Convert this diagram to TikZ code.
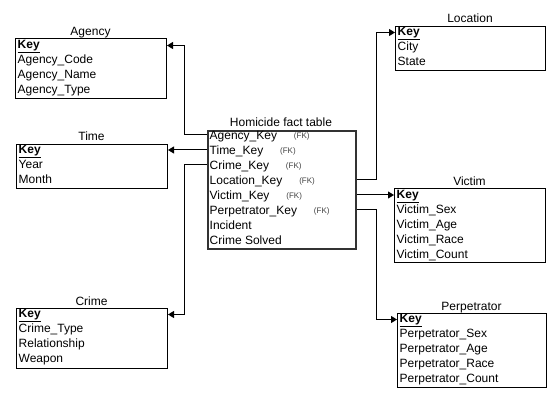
\documentclass[tikz,border=0pt]{standalone}
\usepackage{fontspec}
\setmainfont{Liberation Sans}
\usepackage{tikz}
\usetikzlibrary{calc}
\usetikzlibrary{positioning}
\usetikzlibrary{arrows.meta}

\newcommand{\keyrow}{\textbf{\underline{Key}}}

\begin{document}
\begin{tikzpicture}[x=1pt,y=-1pt]
			\tikzstyle{every node}=[font=\fontsize{12}{14}\selectfont]
			\tikzstyle{tbl}=[draw, line width=1pt, anchor=north west, inner sep=0pt]
			\tikzstyle{ttl}=[anchor=base, inner sep=0pt]
			\tikzstyle{row}=[anchor=west, inner xsep=2.5pt, inner ysep=0pt, text height=9pt, text depth=3pt]
			\tikzstyle{factrow}=[row, text height=10.5pt, text depth=1.5pt]
			\tikzstyle{fk}=[font=\fontsize{8}{9}\selectfont, text=black!75, inner sep=0pt, yshift=-1.5pt]
			\tikzstyle{link}=[line width=1pt, -{Triangle[length=6pt,width=7pt]}]
			
			\useasboundingbox (0,0) rectangle (558,404);
			
			% Agency
			\begin{scope}[shift={(15,38)}]
			\node[tbl, minimum width=151pt, minimum height=60pt] (agency) at (0,0) {};
			\node[ttl] (agencyT) at (75.5,-2.5) {Agency};
			\node[row] (a0) at (0,7.5) {\keyrow};
			\foreach \t [count=\i] in {Agency\_Code,Agency\_Name,Agency\_Type}
			\node[row] (a\i) at (0,7.5+15*\i) {\t};
			\end{scope}
			
			% Time
			\begin{scope}[shift={(16,144)}]
			\node[tbl, minimum width=151pt, minimum height=44pt] (time) at (0,0) {};
			\node[ttl] (timeT) at (75.5,-3) {Time};
			\node[row] (t0) at (0,6.5) {\keyrow};
			\foreach \t [count=\i] in {Year,Month}
			\node[row] (t\i) at (0,6.5+15*\i) {\t};
			\end{scope}
			
			% Crime
			\begin{scope}[shift={(16,308)}]
			\node[tbl, minimum width=151pt, minimum height=60pt] (crime) at (0,0) {};
			\node[ttl] (crimeT) at (75.5,-2.5) {Crime};
			\node[row] (c0) at (0,6.5) {\keyrow};
			\foreach \t [count=\i] in {Crime\_Type,Relationship,Weapon}
			\node[row] (c\i) at (0,6.5+15*\i) {\t};
			\end{scope}
			
			% fact table
			\begin{scope}[shift={(207,130)}]
			\node[tbl, draw=black!80, line width=2pt, minimum width=148pt, minimum height=118pt] (fact) at (0,0) {};
			\node[ttl] (factT) at (74,-3.5) {Homicide fact table};
			\foreach \t [count=\i] in {Agency,Time,Crime,Location,Victim,Perpetrator}{
			\node[factrow] (f\i) at (0,5+15*\i-15) {\t\_Key};
			\node[fk, right=14pt of f\i] (fk\i) {(FK)};
			}
			\node[factrow] (f7) at (0,95) {Incident};
			\node[factrow] (f8) at (0,110) {Crime Solved};
			\end{scope}
			
			% Location
			\begin{scope}[shift={(395,26)}]
			\node[tbl, minimum width=150pt, minimum height=44pt] (location) at (0,0) {};
			\node[ttl] (locationT) at (75,-3.5) {Location};
			\node[row] (l0) at (0,6.5) {\keyrow};
			\foreach \t [count=\i] in {City,State}
			\node[row] (l\i) at (0,6.5+15*\i) {\t};
			\end{scope}
			
			% Victim
			\begin{scope}[shift={(394,188)}]
			\node[tbl, minimum width=151pt, minimum height=74pt] (victim) at (0,0) {};
			\node[ttl] (victimT) at (75.5,-2.5) {Victim};
			\node[row] (v0) at (0,7.5) {\keyrow};
			\foreach \t [count=\i] in {Victim\_Sex,Victim\_Age,Victim\_Race,Victim\_Count}
			\node[row] (v\i) at (0,7.5+15*\i) {\t};
			\end{scope}
			
			% Perpetrator
			\begin{scope}[shift={(397,313)}]
			\node[tbl, minimum width=149pt, minimum height=74pt] (perp) at (0,0) {};
			\node[ttl] (perpT) at (74.5,-2.5) {Perpetrator};
			\node[row] (p0) at (0,6.5) {\keyrow};
			\foreach \t [count=\i] in {Perpetrator\_Sex,Perpetrator\_Age,Perpetrator\_Race,Perpetrator\_Count}
			\node[row] (p\i) at (0,6.5+15*\i) {\t};
			\end{scope}
			
			% links
			\draw[link] (f1.west) -- ++(-23,0) |- (a0 -| agency.east);
			\draw[link] (f2.west) -- (f2.west -| time.east);
			\draw[link] (f3.west) -- ++(-23,0) |- (c0 -| crime.east);
			\draw[link] (f4 -| fact.east) -- ++(19,0) |- (l0.west);
			\draw[link] (f5 -| fact.east) -- (f5 -| v0.west);
			\draw[link] (f6 -| fact.east) -- ++(19,0) |- (p0.west);
			
			\end{tikzpicture}
\end{document}
